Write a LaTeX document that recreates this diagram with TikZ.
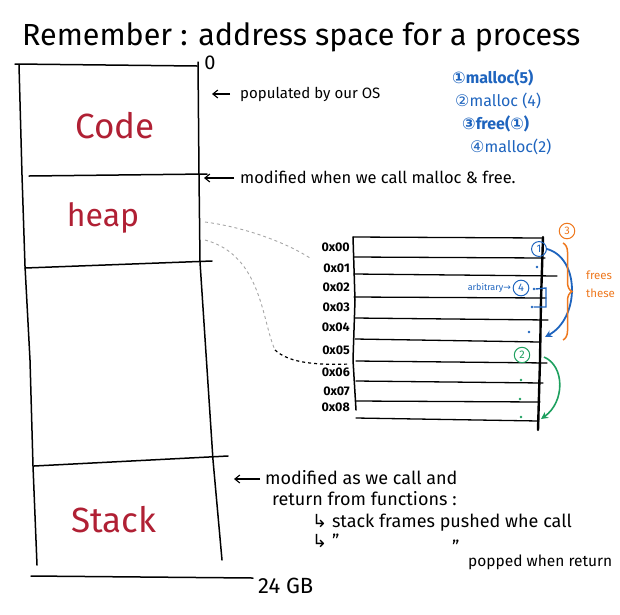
\documentclass[tikz,border=0pt]{standalone}
\usepackage{fontspec}
\setmainfont{Fira Sans}
\newfontfamily\symf{DejaVu Sans}
\usetikzlibrary{decorations.pathreplacing,arrows.meta}
\definecolor{inkred}{RGB}{176,32,52}
\definecolor{inkblue}{RGB}{30,100,190}
\definecolor{inkorange}{RGB}{238,120,30}
\definecolor{inkgreen}{RGB}{30,160,95}
\begin{document}
\begin{tikzpicture}[x=1pt,y=-1pt,
  wall/.style={line width=1.5pt, line join=round, line cap=round},
  row/.style={line width=1.3pt, line cap=round},
  seg/.style={text=inkred, font=\fontsize{35}{40}\selectfont},
  note/.style={anchor=base west, inner sep=0pt, font=\fontsize{15}{17}\selectfont},
  bignote/.style={note, font=\fontsize{18}{20}\selectfont},
  addr/.style={anchor=east, inner sep=0pt, font=\bfseries\fontsize{12.5}{14}\selectfont},
  num/.style={circle, draw, line width=1pt, inner sep=2.2pt, font=\fontsize{11}{12}\selectfont},
  bluelist/.style={anchor=base west, inner sep=0pt, text=inkblue, font=\fontsize{16}{18}\selectfont},
  tip/.style={-{Straight Barb[length=5pt,width=8pt]}, line width=1.1pt},
  dotp/.style={inner sep=0pt, minimum size=2.8pt, circle, fill}]
\useasboundingbox (0,0) rectangle (620,614);
% title
\node[anchor=base west, inner sep=0pt, font=\fontsize{30.5}{34}\selectfont] (title) at (22,45) {Remember : address space for a process};
% address-space column
\draw[wall] (19,65) -- (22,175) -- (25,266) -- (30,360) -- (33,466) -- (37,565);
\draw[wall] (198,62) -- (199,175) -- (200,262) -- (213,460) -- (222,560);
\draw[wall] (15,64) -- (197,66);
\draw[wall] (29,176) -- (207,174);
\draw[wall] (25,268) -- (212,261);
\draw[wall] (34,466) -- (228,456);
\draw[wall] (31,576) -- (253,578);
\node[inner sep=0pt, font=\fontsize{20}{22}\selectfont] (zero) at (210,63) {0};
\node[anchor=base west, inner sep=0pt, font=\fontsize{22}{24}\selectfont] (gb) at (258,593) {24 GB};
\node[seg] (code) at (115,126) {Code};
\node[seg, font=\fontsize{32}{36}\selectfont] (heap) at (103,218) {heap};
\node[seg] (stack) at (114,520) {Stack};
% annotations
\coordinate (osA) at (230,94);
\coordinate (osB) at (212,94);
\draw[tip] (osA) -- (osB);
\node[note] (os) at (240,98) {populated by our OS};
\coordinate (mfA) at (234,178);
\coordinate (mfB) at (204,178);
\draw[tip] (mfA) -- (mfB);
\node[note, font=\fontsize{16.5}{18}\selectfont] (mf) at (240,183) {modified when we call malloc \& free.};
\coordinate (stA) at (260,479);
\coordinate (stB) at (234,479);
\draw[tip] (stA) -- (stB);
\node[bignote] (st1) at (265,484) {modified as we call and};
\node[bignote] (st2) at (272,505) {return from functions :};
\node[bignote] (st3) at (312,527) {{\symf ↳} stack frames pushed whe call};
\node[bignote] (st4) at (312,547) {{\symf ↳} ''};
\node[bignote] (st5) at (452,553) {''};
\node[note, font=\fontsize{15.5}{17}\selectfont] (st6) at (468,566) {popped when return};
% malloc list
\node[bluelist, font=\bfseries\fontsize{16}{18}\selectfont] (l1) at (452,83) {{\symf ①}malloc(5)};
\node[bluelist] (l2) at (455,106) {{\symf ②}malloc (4)};
\node[bluelist, font=\bfseries\fontsize{16}{18}\selectfont] (l3) at (462,129) {{\symf ③}free({\symf ①})};
\node[bluelist] (l4) at (470,152) {{\symf ④}malloc(2)};
% heap zoom dashed curves
\draw[gray!70, dashed, line width=0.9pt] (205,222) .. controls (250,228) and (290,245) .. (310,258);
\draw[gray!70, dashed, line width=0.9pt] (205,240) .. controls (262,255) and (262,322) .. (275,350);
\draw[black, dashed, line width=1.2pt] (275,350) .. controls (290,364) and (320,365) .. (350,364);
% memory block
\draw[wall] (353,237) -- (355,300) -- (353,360) -- (356,410);
\draw[row] (353,237) -- (543,238);
\draw[row] (354,257) -- (545,258);
\draw[row] (354,274) -- (557,276);
\draw[row] (354,297) -- (546,298);
\draw[row] (355,318) -- (548,320);
\draw[row] (355,339) -- (540,342);
\draw[row] (356,361) -- (547,363);
\draw[row] (356,381) -- (543,383);
\draw[row] (356,401) -- (540,402);
\draw[row] (356,418) -- (539,421);
\draw[line width=2.4pt, line cap=round] (543,237) -- (541,300) -- (540,360) -- (538,430);
\foreach \t/\yy in {0x00/247,0x01/268,0x02/287,0x03/307,0x04/327,0x05/350,0x06/372,0x07/391,0x08/407}
  \node[addr] (a\t) at (350,\yy) {\t};
% blue annotations
\node[num, draw=inkblue, text=inkblue] (n1) at (539,249) {1};
\node[dotp, inkblue] (b1) at (537,267) {};
\node[anchor=east, inner sep=0pt, text=inkblue, font=\fontsize{9}{10}\selectfont] (arb) at (511,288) {arbitrary{\symf →}};
\node[num, draw=inkblue, text=inkblue] (n4) at (521,288) {4};
\node[dotp, inkblue] (b2) at (534,289) {};
\node[dotp, inkblue] (b3) at (532,307) {};
\node[dotp, inkblue] (b4) at (529,332) {};
\draw[inkblue, line width=1.4pt] (b2.east) -- (546,288) -- (546,307) -- (b3.east);
\draw[inkblue, line width=1.8pt, -{Stealth[length=7pt,width=7pt]}] (n1.east) .. controls (580,258) and (580,318) .. (545,337);
% orange
\node[num, draw=inkorange, text=inkorange] (n3) at (567,231) {3};
\draw[inkorange, line width=1.5pt, decorate, decoration={brace, amplitude=9pt}] (563,243) -- (563,340);
\node[anchor=base west, inner sep=0pt, text=inkorange, font=\fontsize{11.5}{13}\selectfont] (fr1) at (586,279) {frees};
\node[anchor=base west, inner sep=0pt, text=inkorange, font=\fontsize{11.5}{13}\selectfont] (fr2) at (586,297) {these};
% green
\node[num, draw=inkgreen, text=inkgreen] (n2) at (522,355) {2};
\node[dotp, inkgreen] (g1) at (521,380) {};
\node[dotp, inkgreen] (g2) at (520,399) {};
\node[dotp, inkgreen] (g3) at (521,417) {};
\draw[inkgreen, line width=1.6pt, -{Stealth[length=7pt,width=7pt]}] (544,357) .. controls (565,366) and (565,402) .. (541,419);
\end{tikzpicture}
\end{document}
